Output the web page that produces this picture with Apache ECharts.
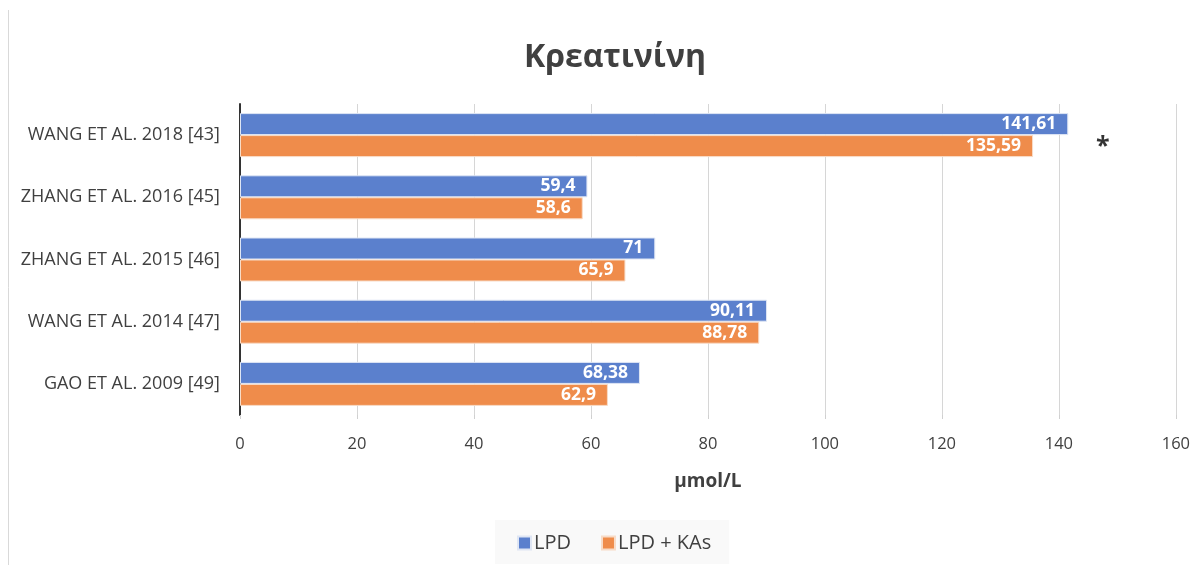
<!DOCTYPE html>
<html>
<head>
<meta charset="utf-8">
<script src="https://cdn.jsdelivr.net/npm/echarts@6/dist/echarts.min.js"></script>
<style>
  html, body { margin: 0; padding: 0; background: #fff; }
  #chart { width: 1193px; height: 565px; }
</style>
</head>
<body>
<div id="chart"></div>
<script>
// Studies, top to bottom
const studies = [
  'WANG ET AL. 2018 [43]',
  'ZHANG ET AL. 2016 [45]',
  'ZHANG ET AL. 2015 [46]',
  'WANG ET AL. 2014 [47]',
  'GAO ET AL. 2009 [49]'
];
// Serum creatinine (μmol/L)
const lpd = [141.61, 59.4, 71, 90.11, 68.38];
const lpdKas = [135.59, 58.6, 65.9, 88.78, 62.9];
// Significance marker: value position and study
const markValue = 147.5;
const markStudy = 'WANG ET AL. 2018 [43]';
const xTicks = { min: 0, max: 160, interval: 20 };

const font = '"Open Sans", "Noto Sans", sans-serif';
const comma = v => String(v).replace('.', ',');

const chart = echarts.init(document.getElementById('chart'));
chart.setOption({
  animation: false,
  backgroundColor: '#ffffff',
  title: {
    text: 'Κρεατινίνη',
    left: 610, top: 37, textAlign: 'center',
    textStyle: { fontFamily: font, fontSize: 32, fontWeight: 'bold', color: '#404040' }
  },
  graphic: [{
    type: 'line',
    shape: { x1: 8.5, y1: 10, x2: 8.5, y2: 565 },
    style: { stroke: '#d9d9d9', lineWidth: 1 }
  }],
  legend: {
    data: ['LPD', 'LPD + KAs'],
    left: 495, bottom: 1,
    itemWidth: 13, itemHeight: 13, itemGap: 30,
    padding: [13, 18, 11, 22],
    backgroundColor: '#f9f9f9',
    icon: 'rect',
    textStyle: { fontFamily: font, fontSize: 20, color: '#404040', padding: [0, 0, 0, -2] }
  },
  grid: { left: 240, right: 17, top: 104, bottom: 150 },
  xAxis: {
    type: 'value',
    min: xTicks.min, max: xTicks.max, interval: xTicks.interval,
    name: 'μmol/L', nameLocation: 'middle', nameGap: 57,
    nameTextStyle: { fontFamily: font, fontSize: 19, fontWeight: 'bold', color: '#404040' },
    axisLine: { show: false },
    axisTick: { show: true, length: 4, lineStyle: { color: '#d0d0d0' } },
    axisLabel: { fontFamily: font, fontSize: 16.5, color: '#404040', margin: 21 },
    splitLine: { show: true, lineStyle: { color: '#d6d6d6', width: 1 } }
  },
  yAxis: {
    type: 'category',
    data: studies,
    inverse: true,
    axisLine: { show: true, lineStyle: { color: '#333', width: 2 } },
    axisTick: { show: false },
    axisLabel: { fontFamily: font, fontSize: 18, color: '#404040', margin: 20 }
  },
  series: [
    {
      name: 'LPD', type: 'bar', data: lpd,
      barWidth: 22, barGap: '0%', barCategoryGap: '29%',
      itemStyle: { color: '#5b80cd', borderColor: '#dfe6f4', borderWidth: 1 },
      label: {
        show: true, position: 'insideRight', distance: 12,
        formatter: p => comma(p.value),
        fontFamily: font, fontSize: 17.5, fontWeight: 'bold', color: '#ffffff'
      }
    },
    {
      name: 'LPD + KAs', type: 'bar', data: lpdKas,
      barWidth: 22,
      itemStyle: { color: '#ef8c4b', borderColor: '#f8dcc8', borderWidth: 1 },
      label: {
        show: true, position: 'insideRight', distance: 12,
        formatter: p => comma(p.value),
        fontFamily: font, fontSize: 17.5, fontWeight: 'bold', color: '#ffffff'
      }
    },
    {
      name: 'mark', type: 'scatter', symbolSize: 1, silent: true,
      data: [[markValue, markStudy]],
      itemStyle: { color: 'rgba(0,0,0,0)' },
      label: {
        show: true, position: 'inside', formatter: '*',
        fontFamily: font, fontSize: 25, fontWeight: 'bold', color: '#000',
        offset: [0, 12]
      }
    }
  ]
});
</script>
</body>
</html>
